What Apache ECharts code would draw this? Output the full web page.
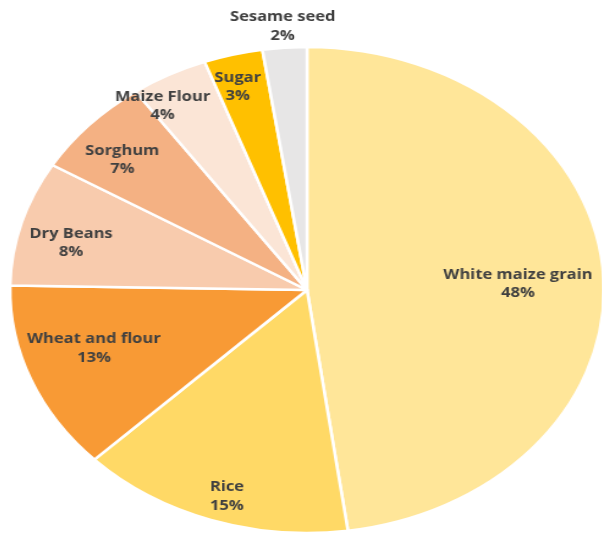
<!DOCTYPE html>
<html><head><meta charset="utf-8">
<script src="https://cdn.jsdelivr.net/npm/echarts@6/dist/echarts.min.js"></script>
<style>
html,body{margin:0;padding:0;background:#fff;overflow:hidden}
#wrap{position:relative;width:602px;height:533px;overflow:hidden}
#pie{position:absolute;left:0;top:0;width:602px;height:533px;transform-origin:307px 290px;transform:scaleX(1.222)}
#lab{position:absolute;left:0;top:0;width:602px;height:533px;transform-origin:307px 0px;transform:scaleX(1.18)}
</style></head><body>
<div id="wrap"><div id="pie"></div><div id="lab"></div></div>
<script>
const categories = ['White maize grain', 'Rice', 'Wheat and flour', 'Dry Beans', 'Sorghum', 'Maize Flour', 'Sugar', 'Sesame seed'];
const values = [47.8, 14.9, 12.6, 8.3, 6.6, 4.2, 3.2, 2.4];
const colors = ['#FFE699', '#FFD966', '#F89A35', '#F8CBAD', '#F4B183', '#FBE5D6', '#FFC000', '#E7E6E6'];
const labelRadius = [0.711, 0.892, 0.757, 0.818, 0.821, 0.900, 0.867, 1.087];
const labelAngleShift = [2.0, -1.3, 3.0, -2.3, -2.1, -5.0, -1.2, 0];

const CX = 307, CY = 290, R = 243, SX = 1.222, TS = 1.18;
const data = categories.map((c, i) => ({ name: c, value: values[i] }));
const total = values.reduce((a, b) => a + b, 0);

const pieChart = echarts.init(document.getElementById('pie'), null, { renderer: 'canvas' });
pieChart.setOption({
  animation: false,
  color: colors,
  series: [{
    type: 'pie', center: [CX, CY], radius: R, startAngle: 90, clockwise: true,
    silent: true, label: { show: false }, labelLine: { show: false },
    itemStyle: { borderColor: '#ffffff', borderWidth: 2.5 },
    data: data
  }]
});

const labChart = echarts.init(document.getElementById('lab'), null, { renderer: 'canvas' });
labChart.setOption({
  animation: false,
  series: [{
    type: 'pie', center: [CX, CY], radius: R, startAngle: 90, clockwise: true,
    silent: true, avoidLabelOverlap: false, percentPrecision: 0,
    itemStyle: { color: 'rgba(0,0,0,0)', borderWidth: 0 },
    label: {
      show: true, position: 'inside', formatter: '{b}\n{d}%',
      fontFamily: 'Open Sans', fontWeight: 'bold', fontSize: 14, color: '#404040',
      lineHeight: 18.5, align: 'center'
    },
    labelLine: { show: false },
    labelLayout: function (p) {
      const i = p.dataIndex;
      let before = 0;
      for (let k = 0; k < i; k++) before += values[k];
      const mid = (before + values[i] / 2) / total * Math.PI * 2 + labelAngleShift[i] * Math.PI / 180;
      const r = R * labelRadius[i];
      const xs = CX + SX * r * Math.sin(mid);
      return { x: CX + (xs - CX) / TS, y: CY - r * Math.cos(mid), align: 'center', verticalAlign: 'middle' };
    },
    data: data
  }]
});
</script>
</body></html>
